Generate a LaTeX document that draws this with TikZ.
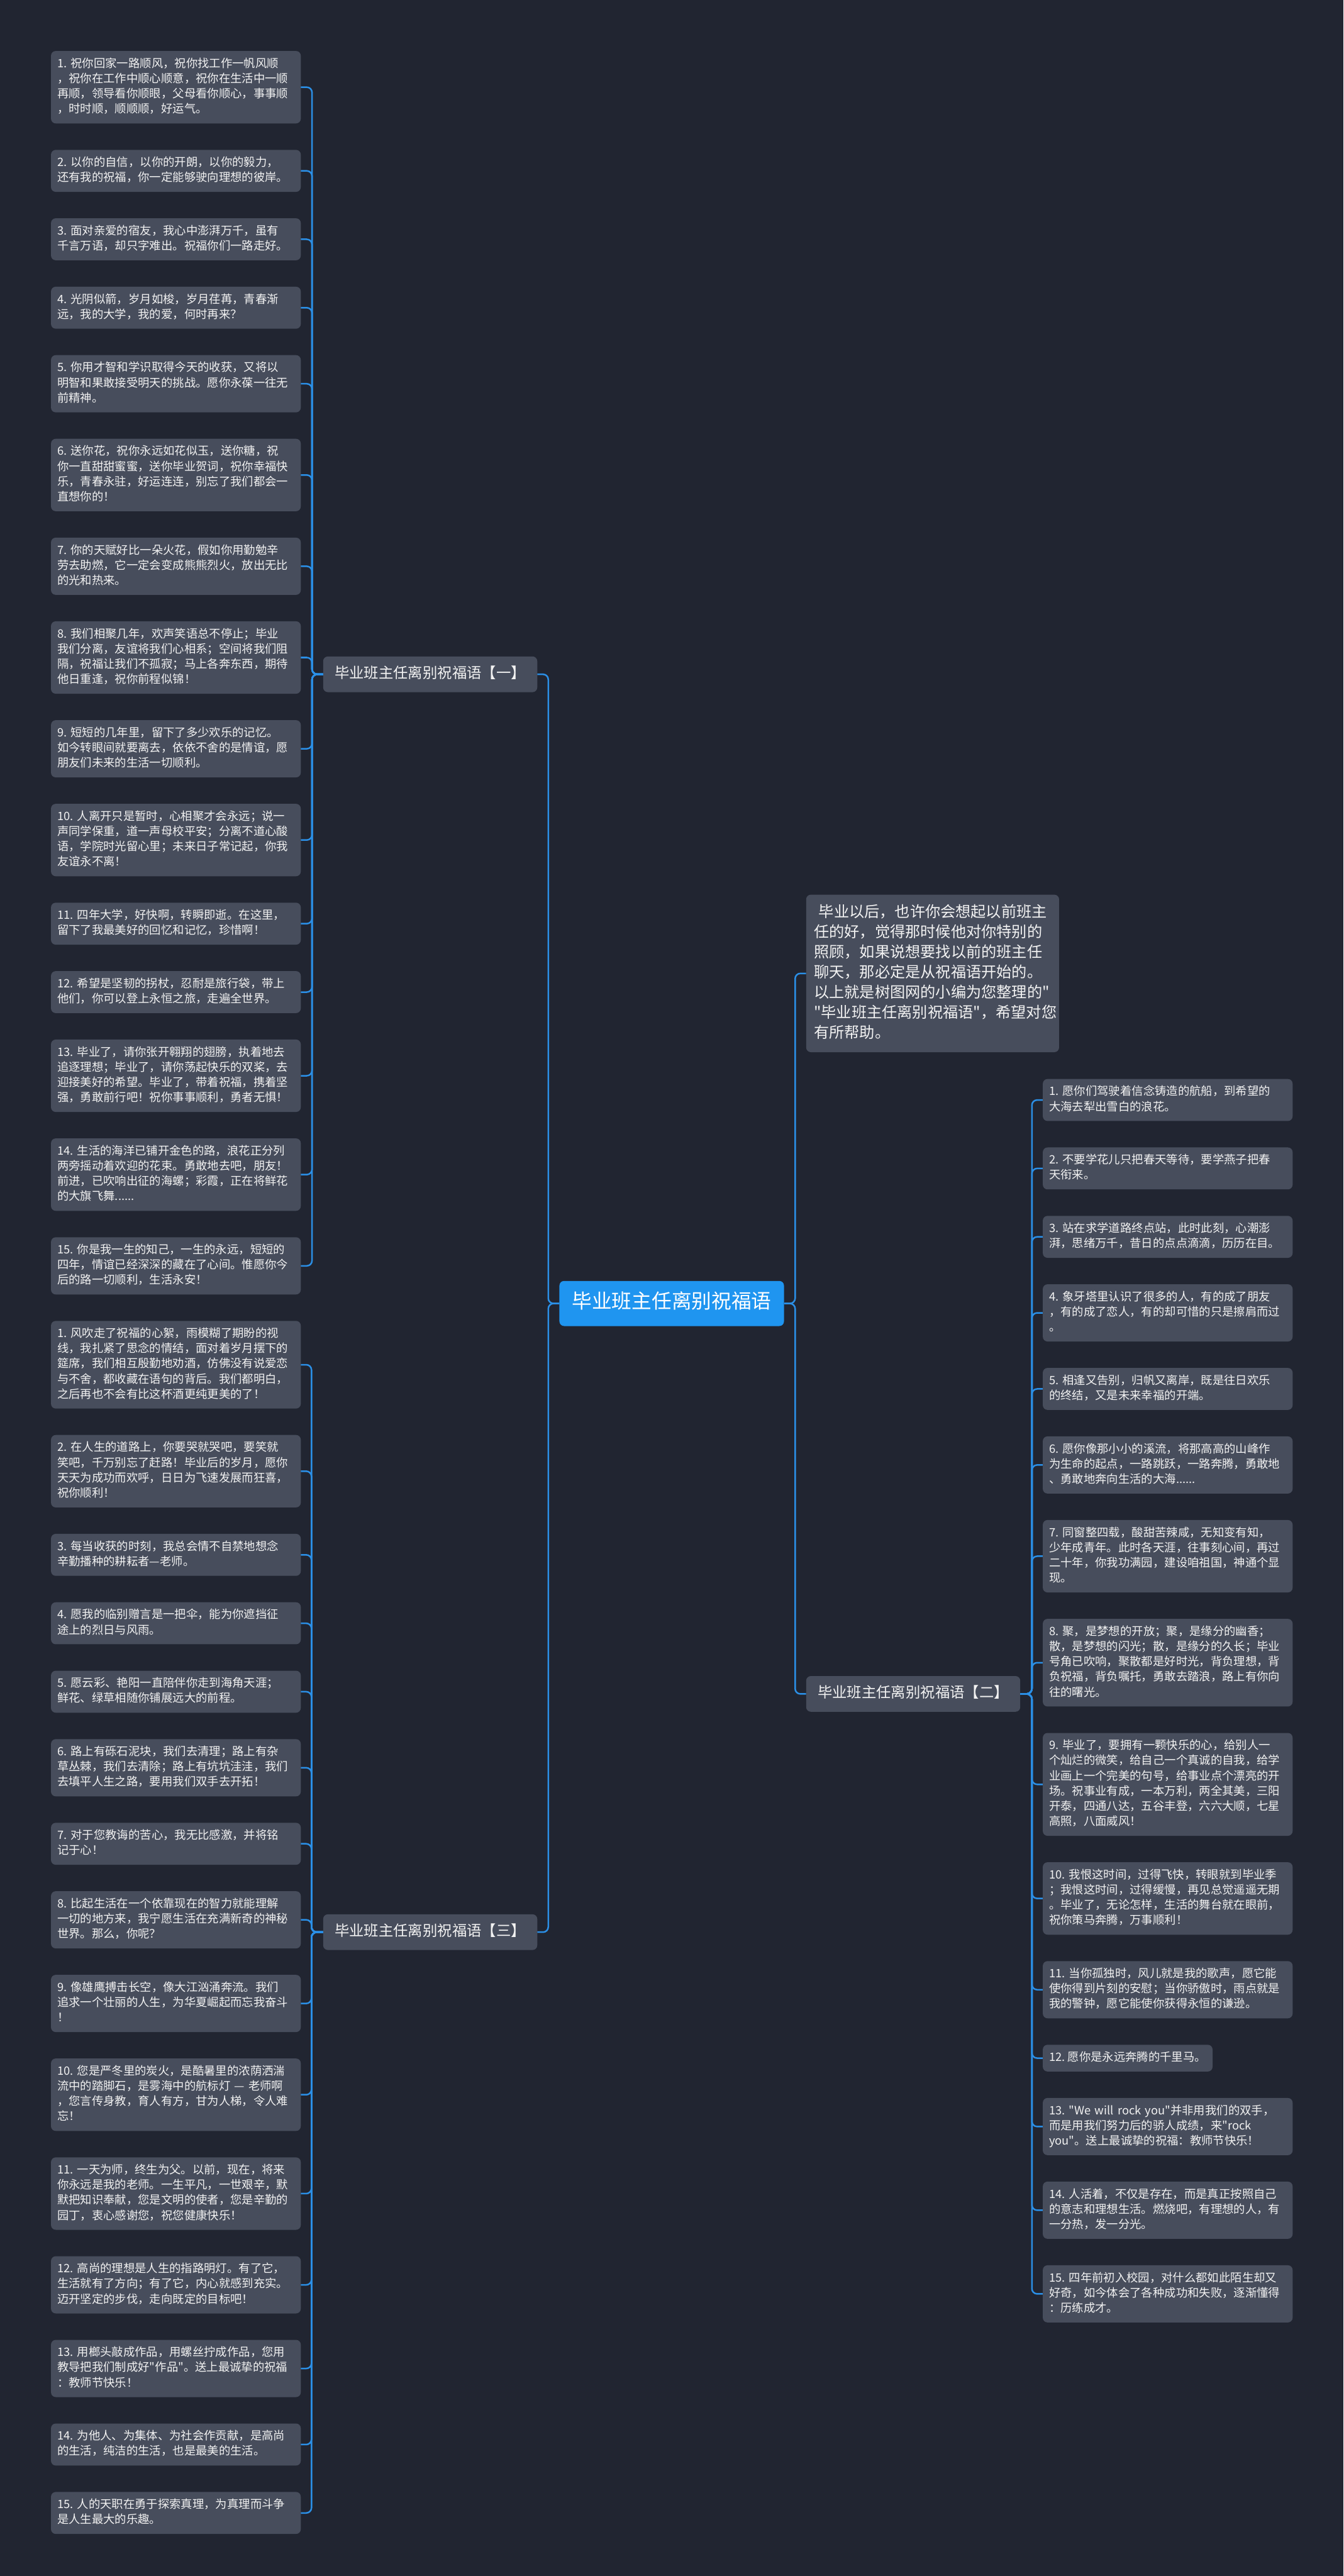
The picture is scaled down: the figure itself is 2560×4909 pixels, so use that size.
\documentclass[tikz,border=0pt]{standalone}
\usepackage{fontspec}
\setmainfont{Noto Sans CJK SC}[Ligatures=TeXOff]
\usetikzlibrary{positioning}

\definecolor{bgcol}{HTML}{212531}
\definecolor{boxcol}{HTML}{474D5C}
\definecolor{linkcol}{HTML}{2B8FE6}
\definecolor{rootcol}{HTML}{1F95F0}
\definecolor{txtcol}{HTML}{F2F2F2}

\begin{document}
\begin{tikzpicture}[
        x=1pt, y=-1pt,
        node distance=50pt,
        every node/.style={fill=boxcol, rounded corners=9pt, text=txtcol,
            execute at begin node=\strut, execute at end node=\strut},
        leaf/.style={align=left, text width=452pt, inner xsep=12pt, inner ysep=11pt,
            font=\fontsize{22}{29}\selectfont},
        leafshort/.style={leaf, text width=},
        branch/.style={minimum width=408pt, inner xsep=14pt, inner ysep=16pt,
            font=\fontsize{28}{36}\selectfont},
        intro/.style={align=left, text width=452pt, inner xsep=15pt, inner ysep=16pt,
            font=\fontsize{29}{38.3}\selectfont},
        root/.style={fill=rootcol, text=white, inner xsep=24pt, inner ysep=18pt,
            font=\fontsize{38}{50}\selectfont},
        link/.style={draw=linkcol, line width=3pt, rounded corners=10pt}
    ]

    % Background
    \fill[bgcol] (0,0) rectangle (2560,4909);
    \useasboundingbox (0,0) rectangle (2560,4909);

    % Nodes
    \node[root] (root) at (1280,2484) {毕业班主任离别祝福语};

    \node[branch, anchor=east] (one) at (1024,1285) {毕业班主任离别祝福语【一】};
    \node[branch, anchor=west] (two) at (1536,3228) {毕业班主任离别祝福语【二】};
    \node[branch, anchor=east] (three) at (1024,3682) {毕业班主任离别祝福语【三】};

    \node[intro, anchor=west] (note) at (1536,1855) {\hspace*{9pt}毕业以后，也许你会想起以前班主\\
        任的好，觉得那时候他对你特别的\\
        照顾，如果说想要找以前的班主任\\
        聊天，那必定是从祝福语开始的。\\
        以上就是树图网的小编为您整理的"\\
        "毕业班主任离别祝福语"，希望对您\\
        有所帮助。};

    % Wishes, part one
    \node[leaf, anchor=north west] (a1) at (97,97) {1.~祝你回家一路顺风，祝你找工作一帆风顺\\
        ，祝你在工作中顺心顺意，祝你在生活中一顺\\
        再顺，领导看你顺眼，父母看你顺心，事事顺\\
        ，时时顺，顺顺顺，好运气。};
    \node[leaf, below=of a1] (a2) {2.~以你的自信，以你的开朗，以你的毅力，\\
        还有我的祝福，你一定能够驶向理想的彼岸。};
    \node[leaf, below=of a2] (a3) {3.~面对亲爱的宿友，我心中澎湃万千，虽有\\
        千言万语，却只字难出。祝福你们一路走好。};
    \node[leaf, below=of a3] (a4) {4.~光阴似箭，岁月如梭，岁月荏苒，青春渐\\
        远，我的大学，我的爱，何时再来？};
    \node[leaf, below=of a4] (a5) {5.~你用才智和学识取得今天的收获，又将以\\
        明智和果敢接受明天的挑战。愿你永葆一往无\\
        前精神。};
    \node[leaf, below=of a5] (a6) {6.~送你花，祝你永远如花似玉，送你糖，祝\\
        你一直甜甜蜜蜜，送你毕业贺词，祝你幸福快\\
        乐，青春永驻，好运连连，别忘了我们都会一\\
        直想你的！};
    \node[leaf, below=of a6] (a7) {7.~你的天赋好比一朵火花，假如你用勤勉辛\\
        劳去助燃，它一定会变成熊熊烈火，放出无比\\
        的光和热来。};
    \node[leaf, below=of a7] (a8) {8.~我们相聚几年，欢声笑语总不停止；毕业\\
        我们分离，友谊将我们心相系；空间将我们阻\\
        隔，祝福让我们不孤寂；马上各奔东西，期待\\
        他日重逢，祝你前程似锦！};
    \node[leaf, below=of a8] (a9) {9.~短短的几年里，留下了多少欢乐的记忆。\\
        如今转眼间就要离去，依依不舍的是情谊，愿\\
        朋友们未来的生活一切顺利。};
    \node[leaf, below=of a9] (a10) {10.~人离开只是暂时，心相聚才会永远；说一\\
        声同学保重，道一声母校平安；分离不道心酸\\
        语，学院时光留心里；未来日子常记起，你我\\
        友谊永不离！};
    \node[leaf, below=of a10] (a11) {11.~四年大学，好快啊，转瞬即逝。在这里，\\
        留下了我最美好的回忆和记忆，珍惜啊！};
    \node[leaf, below=of a11] (a12) {12.~希望是坚韧的拐杖，忍耐是旅行袋，带上\\
        他们，你可以登上永恒之旅，走遍全世界。};
    \node[leaf, below=of a12] (a13) {13.~毕业了，请你张开翱翔的翅膀，执着地去\\
        追逐理想；毕业了，请你荡起快乐的双桨，去\\
        迎接美好的希望。毕业了，带着祝福，携着坚\\
        强，勇敢前行吧！祝你事事顺利，勇者无惧！};
    \node[leaf, below=of a13] (a14) {14.~生活的海洋已铺开金色的路，浪花正分列\\
        两旁摇动着欢迎的花束。勇敢地去吧，朋友！\\
        前进，已吹响出征的海螺；彩霞，正在将鲜花\\
        的大旗飞舞......};
    \node[leaf, below=of a14] (a15) {15.~你是我一生的知己，一生的永远，短短的\\
        四年，情谊已经深深的藏在了心间。惟愿你今\\
        后的路一切顺利，生活永安！};

    % Wishes, part three
    \node[leaf, below=of a15] (c1) {1.~风吹走了祝福的心絮，雨模糊了期盼的视\\
        线，我扎紧了思念的情结，面对着岁月摆下的\\
        筵席，我们相互殷勤地劝酒，仿佛没有说爱恋\\
        与不舍，都收藏在语句的背后。我们都明白，\\
        之后再也不会有比这杯酒更纯更美的了！};
    \node[leaf, below=of c1] (c2) {2.~在人生的道路上，你要哭就哭吧，要笑就\\
        笑吧，千万别忘了赶路！毕业后的岁月，愿你\\
        天天为成功而欢呼，日日为飞速发展而狂喜，\\
        祝你顺利！};
    \node[leaf, below=of c2] (c3) {3.~每当收获的时刻，我总会情不自禁地想念\\
        辛勤播种的耕耘者—老师。};
    \node[leaf, below=of c3] (c4) {4.~愿我的临别赠言是一把伞，能为你遮挡征\\
        途上的烈日与风雨。};
    \node[leaf, below=of c4] (c5) {5.~愿云彩、艳阳一直陪伴你走到海角天涯；\\
        鲜花、绿草相随你铺展远大的前程。};
    \node[leaf, below=of c5] (c6) {6.~路上有砾石泥块，我们去清理；路上有杂\\
        草丛棘，我们去清除；路上有坑坑洼洼，我们\\
        去填平人生之路，要用我们双手去开拓！};
    \node[leaf, below=of c6] (c7) {7.~对于您教诲的苦心，我无比感激，并将铭\\
        记于心！};
    \node[leaf, below=of c7] (c8) {8.~比起生活在一个依靠现在的智力就能理解\\
        一切的地方来，我宁愿生活在充满新奇的神秘\\
        世界。那么，你呢？};
    \node[leaf, below=of c8] (c9) {9.~像雄鹰搏击长空，像大江汹涌奔流。我们\\
        追求一个壮丽的人生，为华夏崛起而忘我奋斗\\
        ！};
    \node[leaf, below=of c9] (c10) {10.~您是严冬里的炭火，是酷暑里的浓荫洒湍\\
        流中的踏脚石，是雾海中的航标灯~—~老师啊\\
        ，您言传身教，育人有方，甘为人梯，令人难\\
        忘！};
    \node[leaf, below=of c10] (c11) {11.~一天为师，终生为父。以前，现在，将来\\
        你永远是我的老师。一生平凡，一世艰辛，默\\
        默把知识奉献，您是文明的使者，您是辛勤的\\
        园丁，衷心感谢您，祝您健康快乐！};
    \node[leaf, below=of c11] (c12) {12.~高尚的理想是人生的指路明灯。有了它，\\
        生活就有了方向；有了它，内心就感到充实。\\
        迈开坚定的步伐，走向既定的目标吧！};
    \node[leaf, below=of c12] (c13) {13.~用榔头敲成作品，用螺丝拧成作品，您用\\
        教导把我们制成好"作品"。送上最诚挚的祝福\\
        ：教师节快乐！};
    \node[leaf, below=of c13] (c14) {14.~为他人、为集体、为社会作贡献，是高尚\\
        的生活，纯洁的生活，也是最美的生活。};
    \node[leaf, below=of c14] (c15) {15.~人的天职在勇于探索真理，为真理而斗争\\
        是人生最大的乐趣。};

    % Wishes, part two
    \node[leaf, anchor=north west] (b1) at (1987,2056) {1.~愿你们驾驶着信念铸造的航船，到希望的\\
        大海去犁出雪白的浪花。};
    \node[leaf, below=of b1] (b2) {2.~不要学花儿只把春天等待，要学燕子把春\\
        天衔来。};
    \node[leaf, below=of b2] (b3) {3.~站在求学道路终点站，此时此刻，心潮澎\\
        湃，思绪万千，昔日的点点滴滴，历历在目。};
    \node[leaf, below=of b3] (b4) {4.~象牙塔里认识了很多的人，有的成了朋友\\
        ，有的成了恋人，有的却可惜的只是擦肩而过\\
        。};
    \node[leaf, below=of b4] (b5) {5.~相逢又告别，归帆又离岸，既是往日欢乐\\
        的终结，又是未来幸福的开端。};
    \node[leaf, below=of b5] (b6) {6.~愿你像那小小的溪流，将那高高的山峰作\\
        为生命的起点，一路跳跃，一路奔腾，勇敢地\\
        、勇敢地奔向生活的大海......};
    \node[leaf, below=of b6] (b7) {7.~同窗整四载，酸甜苦辣咸，无知变有知，\\
        少年成青年。此时各天涯，往事刻心间，再过\\
        二十年，你我功满园，建设咱祖国，神通个显\\
        现。};
    \node[leaf, below=of b7] (b8) {8.~聚，是梦想的开放；聚，是缘分的幽香；\\
        散，是梦想的闪光；散，是缘分的久长；毕业\\
        号角已吹响，聚散都是好时光，背负理想，背\\
        负祝福，背负嘱托，勇敢去踏浪，路上有你向\\
        往的曙光。};
    \node[leaf, below=of b8] (b9) {9.~毕业了，要拥有一颗快乐的心，给别人一\\
        个灿烂的微笑，给自己一个真诚的自我，给学\\
        业画上一个完美的句号，给事业点个漂亮的开\\
        场。祝事业有成，一本万利，两全其美，三阳\\
        开泰，四通八达，五谷丰登，六六大顺，七星\\
        高照，八面威风！};
    \node[leaf, below=of b9] (b10) {10.~我恨这时间，过得飞快，转眼就到毕业季\\
        ；我恨这时间，过得缓慢，再见总觉遥遥无期\\
        。毕业了，无论怎样，生活的舞台就在眼前，\\
        祝你策马奔腾，万事顺利！};
    \node[leaf, below=of b10] (b11) {11.~当你孤独时，风儿就是我的歌声，愿它能\\
        使你得到片刻的安慰；当你骄傲时，雨点就是\\
        我的警钟，愿它能使你获得永恒的谦逊。};
    \node[leafshort, below=of b11.south west, anchor=north west] (b12) {12.~愿你是永远奔腾的千里马。};
    \node[leaf, below=of b12.south west, anchor=north west] (b13) {13.~"We~will~rock~you"并非用我们的双手，\\
        而是用我们努力后的骄人成绩，来"rock\\
        you"。送上最诚挚的祝福：教师节快乐！};
    \node[leaf, below=of b13] (b14) {14.~人活着，不仅是存在，而是真正按照自己\\
        的意志和理想生活。燃烧吧，有理想的人，有\\
        一分热，发一分光。};
    \node[leaf, below=of b14] (b15) {15.~四年前初入校园，对什么都如此陌生却又\\
        好奇，如今体会了各种成功和失败，逐渐懂得\\
        ：历练成才。};

    % Edges
    \draw[link] (root.west) -- ++(-21,0) |- (one.east);
    \draw[link] (root.west) -- ++(-21,0) |- (three.east);
    \draw[link] (root.east) -- ++(21,0) |- (note.west);
    \draw[link] (root.east) -- ++(21,0) |- (two.west);

    \draw[link] (one.west) -- ++(-21,0) |- (a1.east);
    \draw[link] (one.west) -- ++(-21,0) |- (a2.east);
    \draw[link] (one.west) -- ++(-21,0) |- (a3.east);
    \draw[link] (one.west) -- ++(-21,0) |- (a4.east);
    \draw[link] (one.west) -- ++(-21,0) |- (a5.east);
    \draw[link] (one.west) -- ++(-21,0) |- (a6.east);
    \draw[link] (one.west) -- ++(-21,0) |- (a7.east);
    \draw[link] (one.west) -- ++(-21,0) |- (a8.east);
    \draw[link] (one.west) -- ++(-21,0) |- (a9.east);
    \draw[link] (one.west) -- ++(-21,0) |- (a10.east);
    \draw[link] (one.west) -- ++(-21,0) |- (a11.east);
    \draw[link] (one.west) -- ++(-21,0) |- (a12.east);
    \draw[link] (one.west) -- ++(-21,0) |- (a13.east);
    \draw[link] (one.west) -- ++(-21,0) |- (a14.east);
    \draw[link] (one.west) -- ++(-21,0) |- (a15.east);

    \draw[link] (three.west) -- ++(-22,0) |- (c1.east);
    \draw[link] (three.west) -- ++(-22,0) |- (c2.east);
    \draw[link] (three.west) -- ++(-22,0) |- (c3.east);
    \draw[link] (three.west) -- ++(-22,0) |- (c4.east);
    \draw[link] (three.west) -- ++(-22,0) |- (c5.east);
    \draw[link] (three.west) -- ++(-22,0) |- (c6.east);
    \draw[link] (three.west) -- ++(-22,0) |- (c7.east);
    \draw[link] (three.west) -- ++(-22,0) |- (c8.east);
    \draw[link] (three.west) -- ++(-22,0) |- (c9.east);
    \draw[link] (three.west) -- ++(-22,0) |- (c10.east);
    \draw[link] (three.west) -- ++(-22,0) |- (c11.east);
    \draw[link] (three.west) -- ++(-22,0) |- (c12.east);
    \draw[link] (three.west) -- ++(-22,0) |- (c13.east);
    \draw[link] (three.west) -- ++(-22,0) |- (c14.east);
    \draw[link] (three.west) -- ++(-22,0) |- (c15.east);

    \draw[link] (two.east) -- ++(22,0) |- (b1.west);
    \draw[link] (two.east) -- ++(22,0) |- (b2.west);
    \draw[link] (two.east) -- ++(22,0) |- (b3.west);
    \draw[link] (two.east) -- ++(22,0) |- (b4.west);
    \draw[link] (two.east) -- ++(22,0) |- (b5.west);
    \draw[link] (two.east) -- ++(22,0) |- (b6.west);
    \draw[link] (two.east) -- ++(22,0) |- (b7.west);
    \draw[link] (two.east) -- ++(22,0) |- (b8.west);
    \draw[link] (two.east) -- ++(22,0) |- (b9.west);
    \draw[link] (two.east) -- ++(22,0) |- (b10.west);
    \draw[link] (two.east) -- ++(22,0) |- (b11.west);
    \draw[link] (two.east) -- ++(22,0) |- (b12.west);
    \draw[link] (two.east) -- ++(22,0) |- (b13.west);
    \draw[link] (two.east) -- ++(22,0) |- (b14.west);
    \draw[link] (two.east) -- ++(22,0) |- (b15.west);

\end{tikzpicture}
\end{document}
